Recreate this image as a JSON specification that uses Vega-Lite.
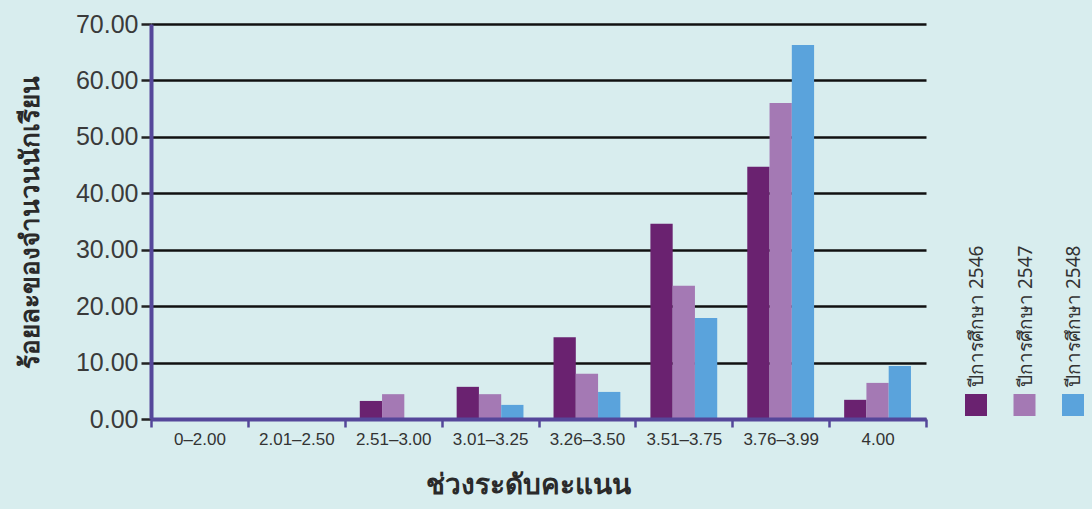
{
  "$schema": "https://vega.github.io/schema/vega-lite/v6.json",
  "autosize": {"type": "none"},
  "width": 775,
  "height": 395,
  "padding": {"left": 151, "top": 24, "right": 166, "bottom": 90},
  "background": "#d8edee",
  "config": {
    "view": {"stroke": null},
    "font": "Liberation Sans"
  },
  "data": {
    "values": [
      {"range": "0–2.00", "year": "ปีการศึกษา 2546", "pct": 0},
      {"range": "0–2.00", "year": "ปีการศึกษา 2547", "pct": 0},
      {"range": "0–2.00", "year": "ปีการศึกษา 2548", "pct": 0},
      {"range": "2.01–2.50", "year": "ปีการศึกษา 2546", "pct": 0},
      {"range": "2.01–2.50", "year": "ปีการศึกษา 2547", "pct": 0},
      {"range": "2.01–2.50", "year": "ปีการศึกษา 2548", "pct": 0},
      {"range": "2.51–3.00", "year": "ปีการศึกษา 2546", "pct": 3.2},
      {"range": "2.51–3.00", "year": "ปีการศึกษา 2547", "pct": 4.4},
      {"range": "2.51–3.00", "year": "ปีการศึกษา 2548", "pct": 0},
      {"range": "3.01–3.25", "year": "ปีการศึกษา 2546", "pct": 5.7},
      {"range": "3.01–3.25", "year": "ปีการศึกษา 2547", "pct": 4.4},
      {"range": "3.01–3.25", "year": "ปีการศึกษา 2548", "pct": 2.5},
      {"range": "3.26–3.50", "year": "ปีการศึกษา 2546", "pct": 14.5},
      {"range": "3.26–3.50", "year": "ปีการศึกษา 2547", "pct": 8.0},
      {"range": "3.26–3.50", "year": "ปีการศึกษา 2548", "pct": 4.8},
      {"range": "3.51–3.75", "year": "ปีการศึกษา 2546", "pct": 34.6},
      {"range": "3.51–3.75", "year": "ปีการศึกษา 2547", "pct": 23.6},
      {"range": "3.51–3.75", "year": "ปีการศึกษา 2548", "pct": 17.9},
      {"range": "3.76–3.99", "year": "ปีการศึกษา 2546", "pct": 44.7},
      {"range": "3.76–3.99", "year": "ปีการศึกษา 2547", "pct": 56.0},
      {"range": "3.76–3.99", "year": "ปีการศึกษา 2548", "pct": 66.3},
      {"range": "4.00", "year": "ปีการศึกษา 2546", "pct": 3.4},
      {"range": "4.00", "year": "ปีการศึกษา 2547", "pct": 6.4},
      {"range": "4.00", "year": "ปีการศึกษา 2548", "pct": 9.4}
    ]
  },
  "mark": {"type": "bar"},
  "encoding": {
    "x": {
      "field": "range",
      "type": "nominal",
      "sort": null,
      "scale": {"paddingInner": 0, "paddingOuter": 0},
      "axis": {
        "title": "ช่วงระดับคะแนน",
        "titleFont": "Noto Sans",
        "titleFontSize": 28,
        "titleFontWeight": "bold",
        "titleColor": "#2a2a2a",
        "titlePadding": 24,
        "titleX": 377,
        "labelAngle": 0,
        "labelFontSize": 17,
        "labelColor": "#333333",
        "labelPadding": 4,
        "tickBand": "extent",
        "tickSize": 8,
        "tickWidth": 2.5,
        "tickColor": "#55479a",
        "domainColor": "#55479a",
        "domainWidth": 4,
        "zindex": 1
      }
    },
    "xOffset": {
      "field": "year",
      "type": "nominal",
      "scale": {"paddingInner": 0, "paddingOuter": 0.675}
    },
    "y": {
      "field": "pct",
      "type": "quantitative",
      "scale": {"domain": [0, 70], "nice": false},
      "axis": {
        "title": "ร้อยละของจำนวนนักเรียน",
        "titleFont": "Noto Sans",
        "titleFontSize": 26,
        "titleFontWeight": "bold",
        "titleColor": "#2a2a2a",
        "titlePadding": 32,
        "values": [0, 10, 20, 30, 40, 50, 60, 70],
        "format": ".2f",
        "labelFontSize": 25,
        "labelColor": "#3a3a3a",
        "labelPadding": 3,
        "tickSize": 10,
        "tickWidth": 2.5,
        "tickColor": "#222222",
        "domainColor": "#55479a",
        "domainWidth": 4,
        "grid": true,
        "gridColor": "#111111",
        "gridWidth": 2.5
      }
    },
    "color": {
      "field": "year",
      "type": "nominal",
      "scale": {"range": ["#6a2270", "#a479b4", "#5aa3dc"]},
      "legend": {
        "title": null,
        "orient": "none",
        "legendX": 814,
        "legendY": 370,
        "direction": "horizontal",
        "columns": 3,
        "columnPadding": 25.5,
        "padding": 0,
        "symbolType": "square",
        "symbolSize": 484,
        "symbolStrokeWidth": 0,
        "symbolOpacity": 1,
        "labelOffset": 0,
        "labelLimit": 400,
        "labelFont": "Noto Sans",
        "labelFontSize": 19,
        "labelColor": "#333333",
        "labelAlign": "left",
        "labelBaseline": "middle",
        "encode": {
          "labels": {
            "update": {
              "angle": {"value": -90},
              "dx": {"value": 18},
              "dy": {"value": -10}
            }
          }
        }
      }
    }
  }
}
